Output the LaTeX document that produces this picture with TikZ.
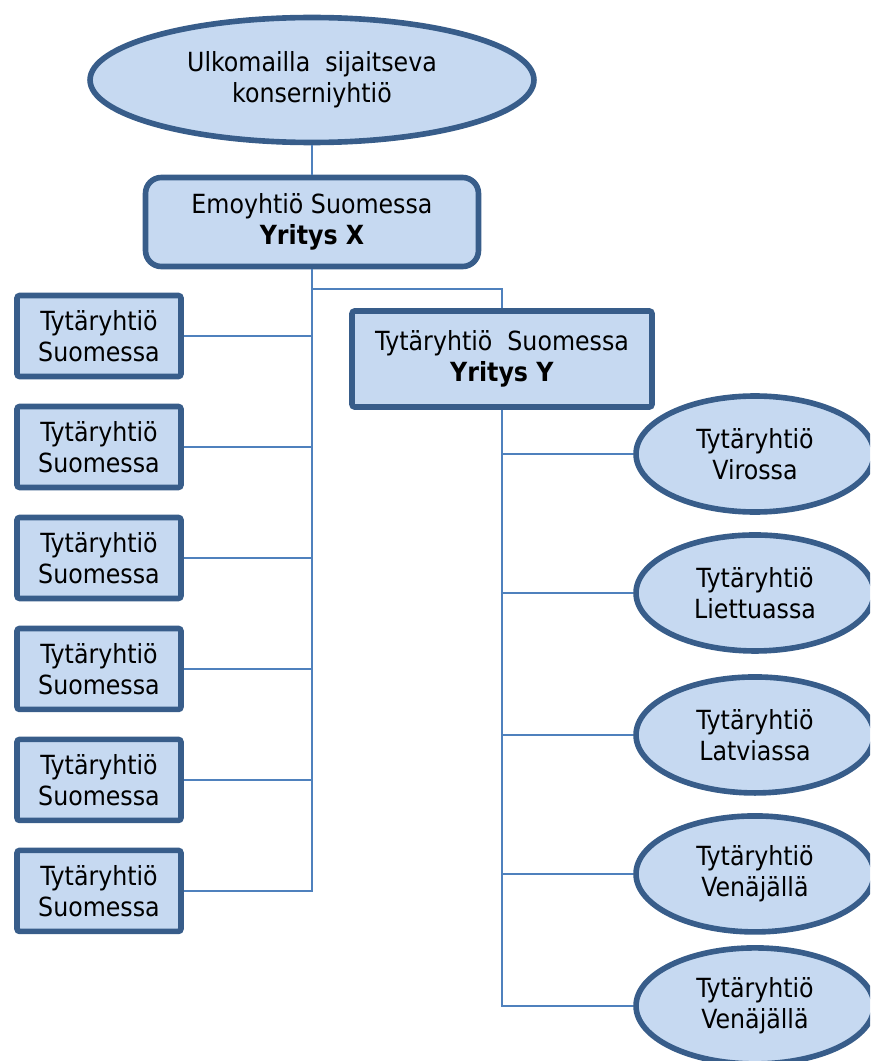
\documentclass[tikz,border=0pt]{standalone}
\usepackage{fontspec}
\setmainfont{DejaVu Sans Condensed}
\usetikzlibrary{shapes.geometric, positioning}
\definecolor{boxfill}{HTML}{C6D9F1}
\definecolor{boxline}{HTML}{385D8A}
\definecolor{linkline}{HTML}{4F81BD}

\begin{document}
\begin{tikzpicture}[x=0.02cm, y=-0.02cm]
        \tikzstyle{owner} = [ellipse, minimum width=8.88cm, minimum height=2.5cm, inner sep=0pt, align=center, draw=boxline, fill=boxfill, line width=3.2pt, font=\fontsize{15}{17.5}\selectfont]
        \tikzstyle{parent} = [rectangle, rounded corners=9pt, minimum width=6.66cm, minimum height=1.78cm, align=center, draw=boxline, fill=boxfill, line width=3.2pt, font=\fontsize{15}{17.5}\selectfont]
        \tikzstyle{firm} = [rectangle, rounded corners=1.5pt, minimum width=3.28cm, minimum height=1.62cm, align=center, draw=boxline, fill=boxfill, line width=3.2pt, font=\fontsize{15}{17.5}\selectfont]
        \tikzstyle{abroad} = [ellipse, minimum width=4.76cm, minimum height=2.32cm, inner sep=0pt, align=center, draw=boxline, fill=boxfill, line width=3.2pt, font=\fontsize{15}{17.5}\selectfont]
        \tikzstyle{link} = [draw=linkline, line width=0.8pt]

        \clip (0,0) rectangle (870,1061);

        \node[owner] (konserni) at (312,80) {Ulkomailla\ \ sijaitseva\\konserniyhtiö};
        \node[parent] (yritysX) at (312,222) {Emoyhtiö Suomessa\\\textbf{Yritys X}};
        \node[firm, minimum width=6.0cm, minimum height=1.92cm] (yritysY) at (502,359) {Tytäryhtiö\ \ Suomessa\\\textbf{Yritys Y}};

        \node[firm] (fi1) at (99,336) {Tytäryhtiö\\Suomessa};
        \node[firm, node distance=2.22cm, below of=fi1] (fi2) {Tytäryhtiö\\Suomessa};
        \node[firm, node distance=2.22cm, below of=fi2] (fi3) {Tytäryhtiö\\Suomessa};
        \node[firm, node distance=2.22cm, below of=fi3] (fi4) {Tytäryhtiö\\Suomessa};
        \node[firm, node distance=2.22cm, below of=fi4] (fi5) {Tytäryhtiö\\Suomessa};
        \node[firm, node distance=2.22cm, below of=fi5] (fi6) {Tytäryhtiö\\Suomessa};

        \node[abroad] (viro) at (755,454) {Tytäryhtiö\\Virossa};
        \node[abroad, node distance=2.78cm, below of=viro] (liettua) {Tytäryhtiö\\Liettuassa};
        \node[abroad, node distance=2.84cm, below of=liettua] (latvia) {Tytäryhtiö\\Latviassa};
        \node[abroad, node distance=2.78cm, below of=latvia] (venaja1) {Tytäryhtiö\\Venäjällä};
        \node[abroad, node distance=2.64cm, below of=venaja1] (venaja2) {Tytäryhtiö\\Venäjällä};

        \coordinate (split) at (312,289);

        % konserni - emoyhtio
        \draw[link] (konserni) -- (yritysX);

        % emoyhtio - tytaryhtiot
        \draw[link] (yritysX.south) |- (fi1.east);
        \draw[link] (yritysX.south) |- (fi2.east);
        \draw[link] (yritysX.south) |- (fi3.east);
        \draw[link] (yritysX.south) |- (fi4.east);
        \draw[link] (yritysX.south) |- (fi5.east);
        \draw[link] (yritysX.south) |- (fi6.east);
        \draw[link] (split) -| (yritysY.north);

        % yritys Y - ulkomaiset
        \draw[link] (yritysY.south) |- (viro.west);
        \draw[link] (yritysY.south) |- (liettua.west);
        \draw[link] (yritysY.south) |- (latvia.west);
        \draw[link] (yritysY.south) |- (venaja1.west);
        \draw[link] (yritysY.south) |- (venaja2.west);
    \end{tikzpicture}
\end{document}
